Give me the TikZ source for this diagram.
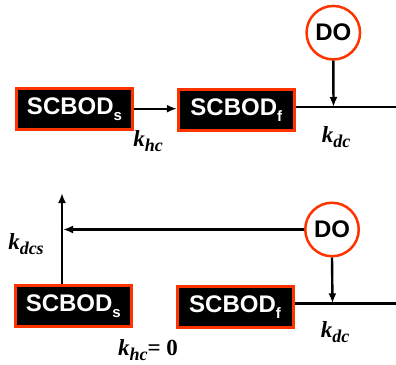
\documentclass[tikz,border=0pt]{standalone}
\usepackage{fontspec}
\setmainfont{Liberation Serif}
\setsansfont{Liberation Sans}
\usetikzlibrary{arrows.meta}
\definecolor{redorange}{RGB}{255,51,0}
\newcommand{\Ksub}[1]{\textbf{\textit{k}}\raisebox{-5pt}{\fontsize{18}{18}\selectfont\bfseries\itshape #1}}
\newcommand{\Sbod}[1]{SCBOD\raisebox{-6pt}{\fontsize{15}{15}\selectfont #1}}
\begin{document}
\begin{tikzpicture}[x=1pt,y=-1pt,
  box/.style={draw=redorange, line width=3pt, fill=black, text=white,
    font=\sffamily\bfseries\fontsize{24}{24}\selectfont,
    minimum width=116pt, minimum height=41pt, inner sep=0pt},
  donode/.style={circle, draw=redorange, line width=2.5pt, fill=white,
    font=\sffamily\bfseries\fontsize{24}{24}\selectfont,
    minimum size=53.5pt, inner sep=0pt},
  conn/.style={line width=2.4pt},
  arr/.style={conn, -{Latex[length=10pt,width=8pt]}},
  lbl/.style={font=\fontsize{23}{26}\selectfont\bfseries\itshape, inner sep=0pt}]
\useasboundingbox (0,0) rectangle (396,364);
% top row
\node[box] (s1) at (74.5,108.7) {\Sbod{s}};
\node[box] (f1) at (236.3,110) {\Sbod{f}};
\node[donode] (do1) at (333.3,32.7) {DO};
\coordinate (j1) at (333.5,107);
\coordinate (e1) at (396,107);
\draw[arr] (s1.east) -- (s1.east -| f1.west);
\draw[conn] (f1.east |- j1) -- (e1);
\draw[arr] (do1.south) -- (j1);
\node[lbl] (khc1) at (148,141) {\Ksub{hc}};
\node[lbl] (kdc1) at (336,137) {\Ksub{dc}};
% bottom row
\node[box] (s2) at (73.3,306) {\Sbod{s}};
\node[box] (f2) at (235,307) {\Sbod{f}};
\node[donode] (do2) at (332,229.5) {DO};
\coordinate (j2) at (332.5,303.3);
\coordinate (e2) at (396,303.3);
\coordinate (up) at (62,193);
\coordinate (h2) at (63,229);
\draw[arr] (s2.north -| up) -- (up);
\draw[arr] (do2.west) -- (do2.west -| h2);
\draw[conn] (f2.east |- j2) -- (e2);
\draw[arr] (do2.south) -- (j2);
\node[lbl] (kdcs) at (26,244) {\Ksub{dcs}};
\node[lbl] (kdc2) at (335,332) {\Ksub{dc}};
\node[lbl] (khc2) at (148,350) {\Ksub{hc}\textup{= 0}};
\end{tikzpicture}
\end{document}
